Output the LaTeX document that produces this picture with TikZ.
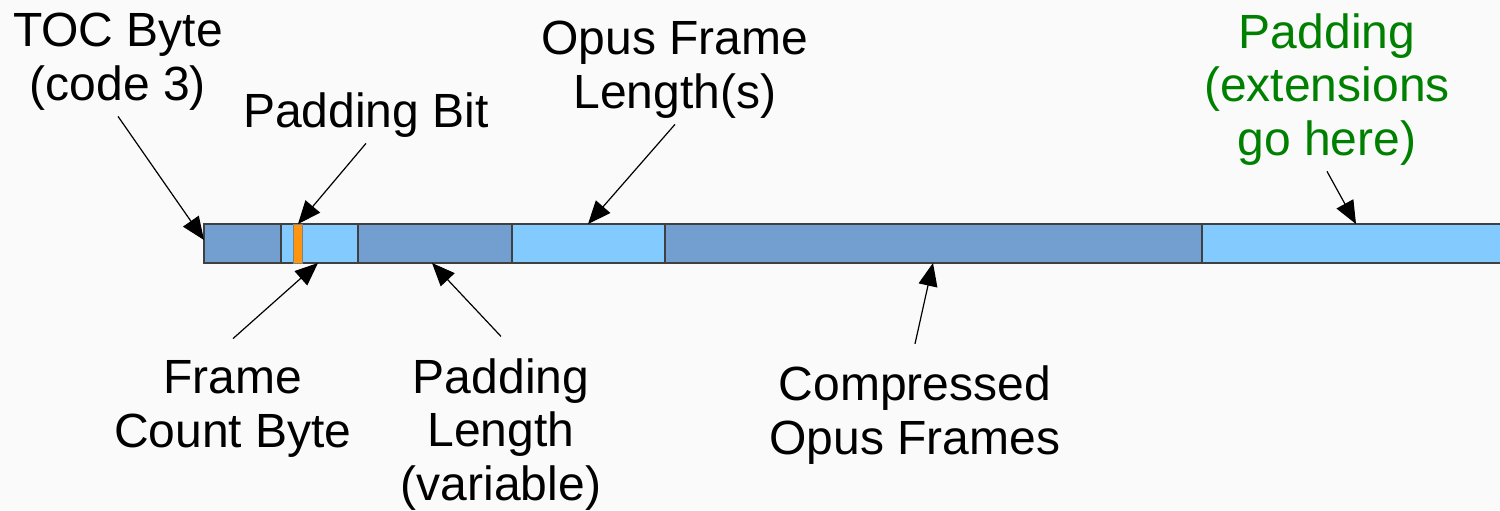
\documentclass[tikz,border=0pt]{standalone}
\usepackage{fontspec}
\setmainfont{Liberation Sans}
\usetikzlibrary{arrows.meta}
\usepackage{xcolor}
\definecolor{framedark}{HTML}{729FCF}
\definecolor{framelight}{HTML}{83CAFF}
\definecolor{padbit}{HTML}{FF950E}
\definecolor{extgreen}{HTML}{008000}
\definecolor{paper}{HTML}{FAFAFA}

\begin{document}
\begin{tikzpicture}[x=0.5pt, y=-0.5pt,
    seg/.style={draw=black!75, line width=0.7pt},
    lbl/.style={font=\fontsize{24}{26.7}\selectfont, align=center, inner sep=3pt, anchor=base},
    botlbl/.style={lbl, outer ysep=8pt},
    pointer/.style={line width=0.6pt, -{Triangle[length=11.5pt, width=9.5pt]}}]
    \pgfmathsetmacro{\bartop}{224}
    \pgfmathsetmacro{\barbot}{263}

    \path [fill=paper] (0,0) rectangle (1500,510);
    \clip (0,0) rectangle (1500,510);

    % the packet
    \path [seg, fill=framedark] (204,\bartop) rectangle (281,\barbot);
    \path [seg, fill=framelight] (281,\bartop) rectangle (358,\barbot);
    \path [draw=black!50, line width=0.4pt, fill=padbit] (293.5,\bartop) rectangle (302,\barbot);
    \path [seg, fill=framedark] (358,\bartop) rectangle (512,\barbot);
    \path [seg, fill=framelight] (512,\bartop) rectangle (665,\barbot);
    \path [seg, fill=framedark] (665,\bartop) rectangle (1202,\barbot);
    \path [seg, fill=framelight] (1202,\bartop) rectangle (1530,\barbot);

    % labels, placed at the baseline of their last line
    \node [lbl] (toc) at (118,100) {TOC Byte\\(code 3)};
    \node [lbl] (padbit) at (366,127) {Padding Bit};
    \node [lbl] (oflen) at (675,108) {Opus Frame\\Length(s)};
    \node [lbl, text=extgreen] (ext) at (1327,155) {Padding\\(extensions\\go here)};
    \node [botlbl] (fcb) at (233,447) {Frame\\Count Byte};
    \node [botlbl] (padlen) at (501,500) {Padding\\Length\\(variable)};
    \node [botlbl] (frames) at (915,454) {Compressed\\Opus Frames};

    \coordinate (toctip) at (204,240);
    \coordinate (padbittip) at (298,224);
    \coordinate (oflentip) at (588,224);
    \coordinate (exttip) at (1356,224);
    \coordinate (fcbtip) at (318,263);
    \coordinate (padlentip) at (432,263);
    \coordinate (framestip) at (933,263);

    \draw [pointer] (toc.south) -- (toctip);
    \draw [pointer] (padbit.south) -- (padbittip);
    \draw [pointer] (oflen.south) -- (oflentip);
    \draw [pointer] (ext.south) -- (exttip);
    \draw [pointer] (fcb.north) -- (fcbtip);
    \draw [pointer] (padlen.north) -- (padlentip);
    \draw [pointer] (frames.north) -- (framestip);
\end{tikzpicture}
\end{document}
